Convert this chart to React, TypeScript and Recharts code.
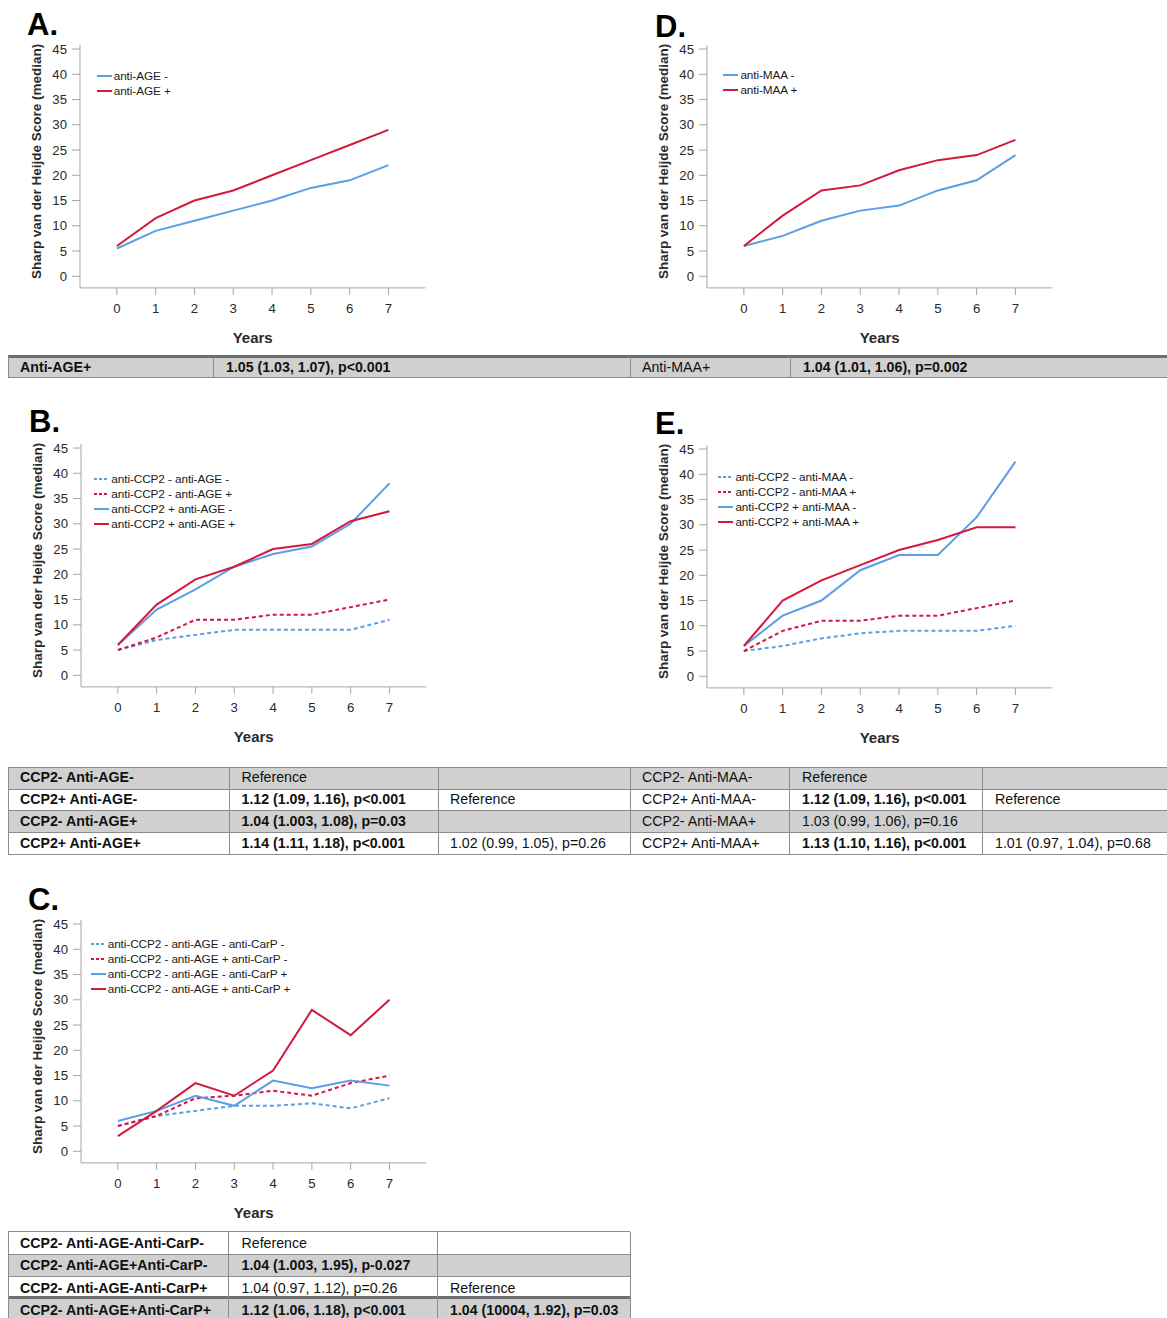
import React from "react";
import { Legend, Line, LineChart, XAxis, YAxis } from "recharts";

const years = [0, 1, 2, 3, 4, 5, 6, 7];
const yTicks = [0, 5, 10, 15, 20, 25, 30, 35, 40, 45];

// A. anti-AGE
const ageNeg = [5.5, 9, 11, 13, 15, 17.5, 19, 22];
const agePos = [6, 11.5, 15, 17, 20, 23, 26, 29];

// D. anti-MAA
const maaNeg = [6, 8, 11, 13, 14, 17, 19, 24];
const maaPos = [6, 12, 17, 18, 21, 23, 24, 27];

// B. anti-CCP2 x anti-AGE
const ccpNegAgeNeg = [5, 7, 8, 9, 9, 9, 9, 11];
const ccpNegAgePos = [5, 7.5, 11, 11, 12, 12, 13.5, 15];
const ccpPosAgeNeg = [6, 13, 17, 21.5, 24, 25.5, 30, 38];
const ccpPosAgePos = [6, 14, 19, 21.5, 25, 26, 30.5, 32.5];

// E. anti-CCP2 x anti-MAA
const ccpNegMaaNeg = [5, 6, 7.5, 8.5, 9, 9, 9, 10];
const ccpNegMaaPos = [5, 9, 11, 11, 12, 12, 13.5, 15];
const ccpPosMaaNeg = [6, 12, 15, 21, 24, 24, 31.5, 42.5];
const ccpPosMaaPos = [6, 15, 19, 22, 25, 27, 29.5, 29.5];

// C. anti-CCP2 negative, anti-AGE x anti-CarP
const ageNegCarpNeg = [5, 7, 8, 9, 9, 9.5, 8.5, 10.5];
const agePosCarpNeg = [5, 7, 10.5, 11, 12, 11, 13.5, 15];
const ageNegCarpPos = [6, 8, 11, 9, 14, 12.5, 14, 13];
const agePosCarpPos = [3, 8, 13.5, 11, 16, 28, 23, 30];

// tables
const table1 = [
  [
    { text: "Anti-AGE+", bold: true },
    { text: "1.05 (1.03, 1.07), p<0.001", bold: true },
    { text: "Anti-MAA+" },
    { text: "1.04 (1.01, 1.06), p=0.002", bold: true },
  ],
];
const table2 = [
  [
    { text: "CCP2- Anti-AGE-", bold: true },
    { text: "Reference" },
    { text: "" },
    { text: "CCP2- Anti-MAA-" },
    { text: "Reference" },
    { text: "" },
  ],
  [
    { text: "CCP2+ Anti-AGE-", bold: true },
    { text: "1.12 (1.09, 1.16), p<0.001", bold: true },
    { text: "Reference" },
    { text: "CCP2+ Anti-MAA-" },
    { text: "1.12 (1.09, 1.16), p<0.001", bold: true },
    { text: "Reference" },
  ],
  [
    { text: "CCP2- Anti-AGE+", bold: true },
    { text: "1.04 (1.003, 1.08), p=0.03", bold: true },
    { text: "" },
    { text: "CCP2- Anti-MAA+" },
    { text: "1.03 (0.99, 1.06), p=0.16" },
    { text: "" },
  ],
  [
    { text: "CCP2+ Anti-AGE+", bold: true },
    { text: "1.14 (1.11, 1.18), p<0.001", bold: true },
    { text: "1.02 (0.99, 1.05), p=0.26" },
    { text: "CCP2+ Anti-MAA+" },
    { text: "1.13 (1.10, 1.16), p<0.001", bold: true },
    { text: "1.01 (0.97, 1.04), p=0.68" },
  ],
];
const table3 = [
  [
    { text: "CCP2- Anti-AGE-Anti-CarP-", bold: true },
    { text: "Reference" },
    { text: "" },
  ],
  [
    { text: "CCP2- Anti-AGE+Anti-CarP-", bold: true },
    { text: "1.04 (1.003, 1.95), p-0.027", bold: true },
    { text: "" },
  ],
  [
    { text: "CCP2- Anti-AGE-Anti-CarP+", bold: true },
    { text: "1.04 (0.97, 1.12), p=0.26" },
    { text: "Reference" },
  ],
  [
    { text: "CCP2- Anti-AGE+Anti-CarP+", bold: true },
    { text: "1.12 (1.06, 1.18), p<0.001", bold: true },
    { text: "1.04 (10004, 1.92), p=0.03", bold: true },
  ],
];

const BLUE = "#5a9ee6";
const RED = "#d2193e";
const GRAY_FILL = "#d0d0d0";
const LINE_GRAY = "#8c8c8c";
const AXIS = "#a6a6a6";
const FONT = "'Liberation Sans', Arial, sans-serif";

type Series = { name: string; values: number[]; color: string; dotted?: boolean };

// geometry shared by all five panels
const PX_X = 38.8;
const PX_Y = 5.05;
const X_DOMAIN: [number, number] = [-0.95, 7.95];
const Y_DOMAIN: [number, number] = [-2.3, 45.8];
const Y_AXIS_W = 60;
const X_AXIS_H = 55;
const M = { top: 5, right: 15, bottom: 5, left: 0 };
const plotW = (X_DOMAIN[1] - X_DOMAIN[0]) * PX_X;
const plotH = (Y_DOMAIN[1] - Y_DOMAIN[0]) * PX_Y;
const chartW = M.left + Y_AXIS_W + plotW + M.right;
const chartH = M.top + plotH + X_AXIS_H + M.bottom;

interface PanelProps {
  axisX: number;
  zeroY: number;
  series: Series[];
  legendDx: number;
  legendDy: number;
}

function Panel({ axisX, zeroY, series, legendDx, legendDy }: PanelProps) {
  const data = years.map((year, i) => {
    const row: Record<string, number> = { year };
    series.forEach((s, k) => (row["s" + k] = s.values[i]));
    return row;
  });
  const left = axisX - Y_AXIS_W - M.left;
  const top = zeroY - Y_DOMAIN[1] * PX_Y - M.top;

  const renderLegend = () => (
    <div style={{ fontFamily: FONT, fontSize: 11.8, color: "#1a1a1a" }}>
      {series.map((s) => (
        <div key={s.name} style={{ height: 15, display: "flex", alignItems: "center", whiteSpace: "nowrap" }}>
          <svg width={15} height={4} style={{ marginRight: 2 }}>
            <line
              x1={0}
              y1={2}
              x2={15}
              y2={2}
              stroke={s.color}
              strokeWidth={2}
              strokeDasharray={s.dotted ? "3 2" : undefined}
            />
          </svg>
          <span style={{ letterSpacing: -0.1 }}>{s.name}</span>
        </div>
      ))}
    </div>
  );

  return (
    <div style={{ position: "absolute", left, top }}>
      <LineChart width={chartW} height={chartH} data={data} margin={M}>
        <XAxis
          type="number"
          dataKey="year"
          domain={X_DOMAIN}
          ticks={years}
          allowDataOverflow
          height={X_AXIS_H}
          tickSize={7}
          tickMargin={9}
          stroke={AXIS}
          tick={{ fontSize: 13.2, fill: "#2a2a2a", fontFamily: FONT }}
          label={{
            value: "Years",
            position: "insideBottom",
            offset: 0,
            style: { fontSize: 15, fontWeight: "bold", fill: "#2a2a2a", fontFamily: FONT },
          }}
        />
        <YAxis
          type="number"
          domain={Y_DOMAIN}
          ticks={yTicks}
          allowDataOverflow
          width={Y_AXIS_W}
          tickSize={8}
          tickMargin={5}
          stroke={AXIS}
          tick={{ fontSize: 13.2, fill: "#2a2a2a", fontFamily: FONT }}
          label={{
            value: "Sharp van der Heijde Score (median)",
            angle: -90,
            position: "center",
            dx: -14,
            dy: -5,
            style: { fontSize: 13.5, fontWeight: "bold", fill: "#2a2a2a", fontFamily: FONT, textAnchor: "middle" },
          }}
        />
        <Legend
          layout="vertical"
          align="center"
          verticalAlign="middle"
          wrapperStyle={{
            left: M.left + Y_AXIS_W + legendDx,
            top: M.top + Y_DOMAIN[1] * PX_Y + legendDy - 7.5,
            width: 300,
          }}
          content={renderLegend}
        />
        {series.map((s, k) => (
          <Line
            key={s.name}
            type="linear"
            dataKey={"s" + k}
            stroke={s.color}
            strokeWidth={2}
            strokeDasharray={s.dotted ? "4 3" : undefined}
            dot={false}
            activeDot={false}
            isAnimationActive={false}
          />
        ))}
      </LineChart>
    </div>
  );
}

function Letter({ text, x, capTop }: { text: string; x: number; capTop: number }) {
  return (
    <div
      style={{
        position: "absolute",
        left: x,
        top: capTop - 4,
        fontFamily: FONT,
        fontWeight: "bold",
        fontSize: 31,
        lineHeight: "31px",
        color: "#000",
      }}
    >
      {text}
    </div>
  );
}

type Cell = { text: string; bold?: boolean };

interface TableProps {
  top: number;
  cols: number[];
  textX: number[];
  rowH: number;
  fills: string[];
  rows: Cell[][];
  thickTop?: boolean;
  thickRow?: number;
}

function Table({ top, cols, textX, rowH, fills, rows, thickTop, thickRow }: TableProps) {
  const x0 = cols[0];
  const x1 = cols[cols.length - 1];
  const bottom = top + rowH * rows.length;
  return (
    <>
      {rows.map((row, r) => (
        <div
          key={"bg" + r}
          style={{ position: "absolute", left: x0, top: top + r * rowH, width: x1 - x0, height: rowH, background: fills[r] }}
        />
      ))}
      {rows.map((row, r) =>
        row.map((c, k) => (
          <div
            key={"t" + r + "-" + k}
            style={{
              position: "absolute",
              left: textX[k],
              top: top + r * rowH,
              height: rowH,
              lineHeight: rowH + "px",
              fontFamily: FONT,
              fontSize: 14.2,
              fontWeight: c.bold ? "bold" : "normal",
              color: "#111",
              whiteSpace: "nowrap",
            }}
          >
            {c.text}
          </div>
        ))
      )}
      {rows.map((_, r) => {
        const thick = (r === 0 && thickTop) || r === thickRow;
        return (
          <div
            key={"h" + r}
            style={{
              position: "absolute",
              left: x0,
              top: top + r * rowH - (thick ? 2.5 : 0.5),
              width: x1 - x0,
              height: thick ? 3 : 1,
              background: thick ? "#6e6e6e" : LINE_GRAY,
            }}
          />
        );
      })}
      <div style={{ position: "absolute", left: x0, top: bottom - 0.5, width: x1 - x0, height: 1, background: LINE_GRAY }} />
      {cols.map((cx, k) => (
        <div
          key={"v" + k}
          style={{ position: "absolute", left: cx - 0.5, top, width: 1, height: bottom - top, background: LINE_GRAY }}
        />
      ))}
    </>
  );
}

export default function App() {
  return (
    <div
      style={{
        position: "absolute",
        left: 0,
        top: 0,
        width: 1167,
        height: 1318,
        overflow: "hidden",
        background: "#fff",
      }}
    >
      <Letter text="A." x={27} capTop={13.3} />
      <Panel
        axisX={80}
        zeroY={276.7}
        legendDx={16.7}
        legendDy={-200.7}
        series={[
          { name: "anti-AGE -", values: ageNeg, color: BLUE },
          { name: "anti-AGE +", values: agePos, color: RED },
        ]}
      />

      <Letter text="D." x={655} capTop={15} />
      <Panel
        axisX={706.7}
        zeroY={276}
        legendDx={16.7}
        legendDy={-201}
        series={[
          { name: "anti-MAA -", values: maaNeg, color: BLUE },
          { name: "anti-MAA +", values: maaPos, color: RED },
        ]}
      />

      <Table
        top={357}
        cols={[8, 213, 630, 790, 1168]}
        textX={[20, 226, 642, 803]}
        rowH={20.7}
        fills={[GRAY_FILL]}
        rows={table1}
        thickTop
      />

      <Letter text="B." x={29} capTop={410} />
      <Panel
        axisX={80.7}
        zeroY={675.3}
        legendDx={13.6}
        legendDy={-196.3}
        series={[
          { name: "anti-CCP2 - anti-AGE -", values: ccpNegAgeNeg, color: BLUE, dotted: true },
          { name: "anti-CCP2 - anti-AGE +", values: ccpNegAgePos, color: RED, dotted: true },
          { name: "anti-CCP2 + anti-AGE -", values: ccpPosAgeNeg, color: BLUE },
          { name: "anti-CCP2 + anti-AGE +", values: ccpPosAgePos, color: RED },
        ]}
      />

      <Letter text="E." x={655} capTop={411.7} />
      <Panel
        axisX={706.7}
        zeroY={676}
        legendDx={11.7}
        legendDy={-199.3}
        series={[
          { name: "anti-CCP2 - anti-MAA -", values: ccpNegMaaNeg, color: BLUE, dotted: true },
          { name: "anti-CCP2 - anti-MAA +", values: ccpNegMaaPos, color: RED, dotted: true },
          { name: "anti-CCP2 + anti-MAA -", values: ccpPosMaaNeg, color: BLUE },
          { name: "anti-CCP2 + anti-MAA +", values: ccpPosMaaPos, color: RED },
        ]}
      />

      <Table
        top={767.3}
        cols={[8, 229, 438, 630, 789, 982, 1168]}
        textX={[20, 241.5, 450, 642, 802, 995]}
        rowH={21.75}
        fills={[GRAY_FILL, "#fff", GRAY_FILL, "#fff"]}
        rows={table2}
      />

      <Letter text="C." x={28} capTop={888} />
      <Panel
        axisX={80.7}
        zeroY={1151.7}
        legendDx={10}
        legendDy={-207.7}
        series={[
          { name: "anti-CCP2 - anti-AGE - anti-CarP -", values: ageNegCarpNeg, color: BLUE, dotted: true },
          { name: "anti-CCP2 - anti-AGE + anti-CarP -", values: agePosCarpNeg, color: RED, dotted: true },
          { name: "anti-CCP2 - anti-AGE - anti-CarP +", values: ageNegCarpPos, color: BLUE },
          { name: "anti-CCP2 - anti-AGE + anti-CarP +", values: agePosCarpPos, color: RED },
        ]}
      />

      <Table
        top={1231.7}
        cols={[8, 228.3, 437, 630]}
        textX={[20, 241.5, 450]}
        rowH={22.4}
        fills={["#fff", GRAY_FILL, "#fff", GRAY_FILL]}
        rows={table3}
        thickRow={3}
      />
    </div>
  );
}
